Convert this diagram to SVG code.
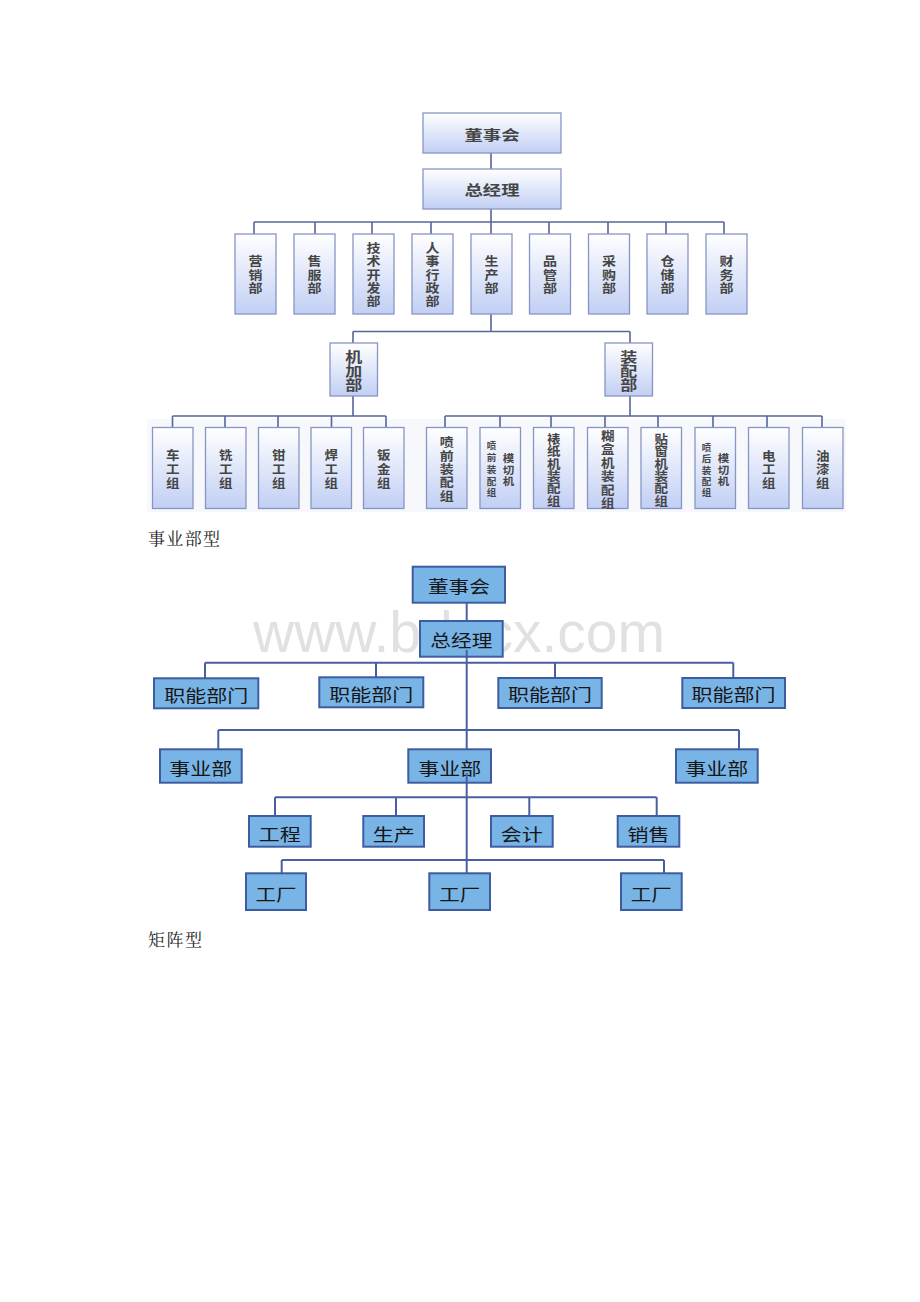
<svg xmlns="http://www.w3.org/2000/svg" width="920" height="1302" viewBox="0 0 920 1302">
<defs>
<linearGradient id="g" x1="0" y1="0" x2="0" y2="1">
<stop offset="0" stop-color="#ffffff"/>
<stop offset="1" stop-color="#c1cff4"/>
</linearGradient>
<style>
.tb{fill:url(#g);stroke:#8795c4;stroke-width:1.3}
.tl{fill:none;stroke:#56679a;stroke-width:1.6}
.tt{font-family:"Noto Sans CJK SC","Noto Sans CJK JP",sans-serif;font-weight:bold;fill:#454545;text-anchor:middle;dominant-baseline:central}
.s12{font-size:12.5px}
.s13{font-size:13.5px}
.s14{font-size:14px}
.s10{font-size:10.5px}
.s9{font-size:9.5px}
.mb{fill:#79b4e7;stroke:#3e5da1;stroke-width:2}
.ml{fill:none;stroke:#4a5fa3;stroke-width:2}
.mt{font-family:"Noto Sans CJK SC","Noto Sans CJK JP",sans-serif;font-size:16.5px;fill:#161616;text-anchor:middle;dominant-baseline:central}
.cap{font-family:"Noto Serif CJK SC","Noto Sans CJK SC",serif;font-size:17px;fill:#222}
.wm{font-family:"Liberation Sans",Arial,sans-serif;font-size:57px;fill:#e1e1e1}
</style>
</defs>
<rect width="920" height="1302" fill="#ffffff"/>

<!-- ===== 事业部型 diagram ===== -->
<rect x="147" y="419" width="699" height="93" fill="#f7f8fb"/>
<g id="connectors-top">
<path class="tl" d="M491 153V169M491 209V222M254 222H724M254 222V234M315 222V234M372 222V234M431 222V234M491 222V234M549 222V234M608 222V234M666 222V234M724 222V234"/>
<path class="tl" d="M491 314V331.5M353 331.5H630M353 331.5V343M630 331.5V343"/>
<path class="tl" d="M353 396V416M172.5 416H386M172.5 416V427.5M225 416V427.5M278 416V427.5M331.5 416V427.5M386 416V427.5"/>
<path class="tl" d="M630 396V416M445 416H822M445 416V427.5M500 416V427.5M551 416V427.5M605 416V427.5M658 416V427.5M713 416V427.5M767 416V427.5M822 416V427.5"/>
</g>

<g id="t-dongshihui"><rect class="tb" x="423" y="113" width="138" height="40"/><text class="tt s14" x="492" y="134" textLength="55" lengthAdjust="spacingAndGlyphs">董事会</text></g>
<g id="t-zongjingli"><rect class="tb" x="423" y="169" width="138" height="40"/><text class="tt s14" x="492" y="189" textLength="55" lengthAdjust="spacingAndGlyphs">总经理</text></g>

<g id="t-yingxiao"><rect class="tb" x="235" y="234" width="41" height="80"/>
<text class="tt s12" x="255.5" y="260.7" textLength="14" lengthAdjust="spacingAndGlyphs">营</text>
<text class="tt s12" x="255.5" y="274" textLength="14" lengthAdjust="spacingAndGlyphs">销</text>
<text class="tt s12" x="255.5" y="287.3" textLength="14" lengthAdjust="spacingAndGlyphs">部</text></g>
<g id="t-shoufu"><rect class="tb" x="294" y="234" width="41" height="80"/>
<text class="tt s12" x="314.5" y="260.7" textLength="14" lengthAdjust="spacingAndGlyphs">售</text>
<text class="tt s12" x="314.5" y="274" textLength="14" lengthAdjust="spacingAndGlyphs">服</text>
<text class="tt s12" x="314.5" y="287.3" textLength="14" lengthAdjust="spacingAndGlyphs">部</text></g>
<g id="t-jishu"><rect class="tb" x="353" y="234" width="41" height="80"/>
<text class="tt s12" x="373.5" y="247.4" textLength="14" lengthAdjust="spacingAndGlyphs">技</text>
<text class="tt s12" x="373.5" y="260.7" textLength="14" lengthAdjust="spacingAndGlyphs">术</text>
<text class="tt s12" x="373.5" y="274" textLength="14" lengthAdjust="spacingAndGlyphs">开</text>
<text class="tt s12" x="373.5" y="287.3" textLength="14" lengthAdjust="spacingAndGlyphs">发</text>
<text class="tt s12" x="373.5" y="300.6" textLength="14" lengthAdjust="spacingAndGlyphs">部</text></g>
<g id="t-renshi"><rect class="tb" x="412" y="234" width="41" height="80"/>
<text class="tt s12" x="432.5" y="247.4" textLength="14" lengthAdjust="spacingAndGlyphs">人</text>
<text class="tt s12" x="432.5" y="260.7" textLength="14" lengthAdjust="spacingAndGlyphs">事</text>
<text class="tt s12" x="432.5" y="274" textLength="14" lengthAdjust="spacingAndGlyphs">行</text>
<text class="tt s12" x="432.5" y="287.3" textLength="14" lengthAdjust="spacingAndGlyphs">政</text>
<text class="tt s12" x="432.5" y="300.6" textLength="14" lengthAdjust="spacingAndGlyphs">部</text></g>
<g id="t-shengchan"><rect class="tb" x="471" y="234" width="41" height="80"/>
<text class="tt s12" x="491.5" y="260.7" textLength="14" lengthAdjust="spacingAndGlyphs">生</text>
<text class="tt s12" x="491.5" y="274" textLength="14" lengthAdjust="spacingAndGlyphs">产</text>
<text class="tt s12" x="491.5" y="287.3" textLength="14" lengthAdjust="spacingAndGlyphs">部</text></g>
<g id="t-pinguan"><rect class="tb" x="529.5" y="234" width="41" height="80"/>
<text class="tt s12" x="550" y="260.7" textLength="14" lengthAdjust="spacingAndGlyphs">品</text>
<text class="tt s12" x="550" y="274" textLength="14" lengthAdjust="spacingAndGlyphs">管</text>
<text class="tt s12" x="550" y="287.3" textLength="14" lengthAdjust="spacingAndGlyphs">部</text></g>
<g id="t-caigou"><rect class="tb" x="588.5" y="234" width="41" height="80"/>
<text class="tt s12" x="609" y="260.7" textLength="14" lengthAdjust="spacingAndGlyphs">采</text>
<text class="tt s12" x="609" y="274" textLength="14" lengthAdjust="spacingAndGlyphs">购</text>
<text class="tt s12" x="609" y="287.3" textLength="14" lengthAdjust="spacingAndGlyphs">部</text></g>
<g id="t-cangchu"><rect class="tb" x="647" y="234" width="41" height="80"/>
<text class="tt s12" x="667.5" y="260.7" textLength="14" lengthAdjust="spacingAndGlyphs">仓</text>
<text class="tt s12" x="667.5" y="274" textLength="14" lengthAdjust="spacingAndGlyphs">储</text>
<text class="tt s12" x="667.5" y="287.3" textLength="14" lengthAdjust="spacingAndGlyphs">部</text></g>
<g id="t-caiwu"><rect class="tb" x="706" y="234" width="41" height="80"/>
<text class="tt s12" x="726.5" y="260.7" textLength="14" lengthAdjust="spacingAndGlyphs">财</text>
<text class="tt s12" x="726.5" y="274" textLength="14" lengthAdjust="spacingAndGlyphs">务</text>
<text class="tt s12" x="726.5" y="287.3" textLength="14" lengthAdjust="spacingAndGlyphs">部</text></g>

<g id="t-jijia"><rect class="tb" x="330" y="343" width="47.5" height="53"/>
<text class="tt s13" x="353.75" y="356" textLength="17" lengthAdjust="spacingAndGlyphs">机</text>
<text class="tt s13" x="353.75" y="370" textLength="17" lengthAdjust="spacingAndGlyphs">加</text>
<text class="tt s13" x="353.75" y="384" textLength="17" lengthAdjust="spacingAndGlyphs">部</text></g>
<g id="t-zhuangpei"><rect class="tb" x="605" y="343" width="47.5" height="53"/>
<text class="tt s13" x="628.75" y="356" textLength="17" lengthAdjust="spacingAndGlyphs">装</text>
<text class="tt s13" x="628.75" y="370" textLength="17" lengthAdjust="spacingAndGlyphs">配</text>
<text class="tt s13" x="628.75" y="384" textLength="17" lengthAdjust="spacingAndGlyphs">部</text></g>

<g id="t-chegong"><rect class="tb" x="152.5" y="427.5" width="40.5" height="81"/>
<text class="tt s12" x="172.75" y="454.5" textLength="13.5" lengthAdjust="spacingAndGlyphs">车</text>
<text class="tt s12" x="172.75" y="468.3" textLength="13.5" lengthAdjust="spacingAndGlyphs">工</text>
<text class="tt s12" x="172.75" y="482" textLength="13.5" lengthAdjust="spacingAndGlyphs">组</text></g>
<g id="t-xigong"><rect class="tb" x="205.5" y="427.5" width="40.5" height="81"/>
<text class="tt s12" x="225.75" y="454.5" textLength="13.5" lengthAdjust="spacingAndGlyphs">铣</text>
<text class="tt s12" x="225.75" y="468.3" textLength="13.5" lengthAdjust="spacingAndGlyphs">工</text>
<text class="tt s12" x="225.75" y="482" textLength="13.5" lengthAdjust="spacingAndGlyphs">组</text></g>
<g id="t-qiangong"><rect class="tb" x="258.5" y="427.5" width="40.5" height="81"/>
<text class="tt s12" x="278.75" y="454.5" textLength="13.5" lengthAdjust="spacingAndGlyphs">钳</text>
<text class="tt s12" x="278.75" y="468.3" textLength="13.5" lengthAdjust="spacingAndGlyphs">工</text>
<text class="tt s12" x="278.75" y="482" textLength="13.5" lengthAdjust="spacingAndGlyphs">组</text></g>
<g id="t-hangong"><rect class="tb" x="311" y="427.5" width="40.5" height="81"/>
<text class="tt s12" x="331.25" y="454.5" textLength="13.5" lengthAdjust="spacingAndGlyphs">焊</text>
<text class="tt s12" x="331.25" y="468.3" textLength="13.5" lengthAdjust="spacingAndGlyphs">工</text>
<text class="tt s12" x="331.25" y="482" textLength="13.5" lengthAdjust="spacingAndGlyphs">组</text></g>
<g id="t-banjin"><rect class="tb" x="363.5" y="427.5" width="40.5" height="81"/>
<text class="tt s12" x="383.75" y="454.5" textLength="13.5" lengthAdjust="spacingAndGlyphs">钣</text>
<text class="tt s12" x="383.75" y="468.3" textLength="13.5" lengthAdjust="spacingAndGlyphs">金</text>
<text class="tt s12" x="383.75" y="482" textLength="13.5" lengthAdjust="spacingAndGlyphs">组</text></g>

<g id="t-penqian"><rect class="tb" x="426.5" y="427.5" width="40.5" height="81"/>
<text class="tt s12" x="446.75" y="441.7" textLength="14" lengthAdjust="spacingAndGlyphs">喷</text>
<text class="tt s12" x="446.75" y="455" textLength="14" lengthAdjust="spacingAndGlyphs">前</text>
<text class="tt s12" x="446.75" y="468.3" textLength="14" lengthAdjust="spacingAndGlyphs">装</text>
<text class="tt s12" x="446.75" y="481.6" textLength="14" lengthAdjust="spacingAndGlyphs">配</text>
<text class="tt s12" x="446.75" y="495" textLength="14" lengthAdjust="spacingAndGlyphs">组</text></g>
<g id="t-penqianmoqie"><rect class="tb" x="480" y="427.5" width="40.5" height="81"/>
<text class="tt s9" x="491.5" y="445">喷</text>
<text class="tt s9" x="491.5" y="457">前</text>
<text class="tt s9" x="491.5" y="469">装</text>
<text class="tt s9" x="491.5" y="480.5">配</text>
<text class="tt s9" x="491.5" y="491.5">组</text>
<text class="tt s10" x="508.5" y="457" textLength="11.5" lengthAdjust="spacingAndGlyphs">模</text>
<text class="tt s10" x="508.5" y="469" textLength="11.5" lengthAdjust="spacingAndGlyphs">切</text>
<text class="tt s10" x="508.5" y="480.5" textLength="11.5" lengthAdjust="spacingAndGlyphs">机</text></g>
<g id="t-biaozhi"><rect class="tb" x="533.5" y="427.5" width="40.5" height="81"/>
<text class="tt s12" x="553.75" y="438.3" textLength="13.5" lengthAdjust="spacingAndGlyphs">裱</text>
<text class="tt s12" x="553.75" y="450.7" textLength="13.5" lengthAdjust="spacingAndGlyphs">纸</text>
<text class="tt s12" x="553.75" y="463.1" textLength="13.5" lengthAdjust="spacingAndGlyphs">机</text>
<text class="tt s12" x="553.75" y="475.5" textLength="13.5" lengthAdjust="spacingAndGlyphs">装</text>
<text class="tt s12" x="553.75" y="487.9" textLength="13.5" lengthAdjust="spacingAndGlyphs">配</text>
<text class="tt s12" x="553.75" y="500.3" textLength="13.5" lengthAdjust="spacingAndGlyphs">组</text></g>
<g id="t-huhe"><rect class="tb" x="587.5" y="427.5" width="40.5" height="81"/>
<text class="tt s12" x="607.75" y="435.3" textLength="13.5" lengthAdjust="spacingAndGlyphs">糊</text>
<text class="tt s12" x="607.75" y="448.8" textLength="13.5" lengthAdjust="spacingAndGlyphs">盒</text>
<text class="tt s12" x="607.75" y="462.3" textLength="13.5" lengthAdjust="spacingAndGlyphs">机</text>
<text class="tt s12" x="607.75" y="475.8" textLength="13.5" lengthAdjust="spacingAndGlyphs">装</text>
<text class="tt s12" x="607.75" y="489.3" textLength="13.5" lengthAdjust="spacingAndGlyphs">配</text>
<text class="tt s12" x="607.75" y="502.8" textLength="13.5" lengthAdjust="spacingAndGlyphs">组</text></g>
<g id="t-tiechuang"><rect class="tb" x="641" y="427.5" width="40.5" height="81"/>
<text class="tt s12" x="661.25" y="438.3" textLength="13.5" lengthAdjust="spacingAndGlyphs">贴</text>
<text class="tt s12" x="661.25" y="450.7" textLength="13.5" lengthAdjust="spacingAndGlyphs">窗</text>
<text class="tt s12" x="661.25" y="463.1" textLength="13.5" lengthAdjust="spacingAndGlyphs">机</text>
<text class="tt s12" x="661.25" y="475.5" textLength="13.5" lengthAdjust="spacingAndGlyphs">装</text>
<text class="tt s12" x="661.25" y="487.9" textLength="13.5" lengthAdjust="spacingAndGlyphs">配</text>
<text class="tt s12" x="661.25" y="500.3" textLength="13.5" lengthAdjust="spacingAndGlyphs">组</text></g>
<g id="t-penhoumoqie"><rect class="tb" x="695" y="427.5" width="40.5" height="81"/>
<text class="tt s9" x="706.5" y="446.5">喷</text>
<text class="tt s9" x="706.5" y="458">后</text>
<text class="tt s9" x="706.5" y="469.5">装</text>
<text class="tt s9" x="706.5" y="481">配</text>
<text class="tt s9" x="706.5" y="492">组</text>
<text class="tt s10" x="723.5" y="457" textLength="11.5" lengthAdjust="spacingAndGlyphs">模</text>
<text class="tt s10" x="723.5" y="469" textLength="11.5" lengthAdjust="spacingAndGlyphs">切</text>
<text class="tt s10" x="723.5" y="480.5" textLength="11.5" lengthAdjust="spacingAndGlyphs">机</text></g>
<g id="t-diangong"><rect class="tb" x="748.5" y="427.5" width="40.5" height="81"/>
<text class="tt s12" x="768.75" y="455" textLength="13.5" lengthAdjust="spacingAndGlyphs">电</text>
<text class="tt s12" x="768.75" y="468.5" textLength="13.5" lengthAdjust="spacingAndGlyphs">工</text>
<text class="tt s12" x="768.75" y="482" textLength="13.5" lengthAdjust="spacingAndGlyphs">组</text></g>
<g id="t-youqi"><rect class="tb" x="802.5" y="427.5" width="40.5" height="81"/>
<text class="tt s12" x="822.75" y="455" textLength="13.5" lengthAdjust="spacingAndGlyphs">油</text>
<text class="tt s12" x="822.75" y="468.5" textLength="13.5" lengthAdjust="spacingAndGlyphs">漆</text>
<text class="tt s12" x="822.75" y="482" textLength="13.5" lengthAdjust="spacingAndGlyphs">组</text></g>

<text id="cap1" class="cap" x="148" y="545" textLength="72">事业部型</text>

<!-- ===== 矩阵型 diagram ===== -->
<text id="watermark" class="wm" x="253" y="652" textLength="412" lengthAdjust="spacingAndGlyphs">www.bdocx.com</text>

<g id="connectors-matrix">
<path class="ml" d="M466.7 602.7V873.3"/>
<path class="ml" d="M205 662.7H733.3M205 662.7V678.3M376 662.7V677.3M555 662.7V678M733.3 662.7V678"/>
<path class="ml" d="M218.3 730H739M218.3 730V749.3M739 730V749.3"/>
<path class="ml" d="M275 797.3H656.7M275 797.3V816M396 797.3V816M529.3 797.3V816M656.7 797.3V816"/>
<path class="ml" d="M281.7 860H664M281.7 860V873.3M664 860V873.3"/>
</g>

<g id="m-dongshihui"><rect class="mb" x="412.7" y="566.7" width="92.3" height="36"/><text class="mt" x="458.9" y="586" textLength="62" lengthAdjust="spacingAndGlyphs">董事会</text></g>
<g id="m-zongjingli"><rect class="mb" x="420" y="621" width="82.7" height="35.7"/><text class="mt" x="461.3" y="640" textLength="62" lengthAdjust="spacingAndGlyphs">总经理</text></g>

<g id="m-zhineng1"><rect class="mb" x="154" y="678.3" width="104.3" height="30"/><text class="mt" x="206.2" y="694.5" textLength="84" lengthAdjust="spacingAndGlyphs">职能部门</text></g>
<g id="m-zhineng2"><rect class="mb" x="319.3" y="677.3" width="104" height="30"/><text class="mt" x="371.3" y="693.5" textLength="84" lengthAdjust="spacingAndGlyphs">职能部门</text></g>
<g id="m-zhineng3"><rect class="mb" x="498.3" y="678" width="103.4" height="30"/><text class="mt" x="550" y="694.2" textLength="84" lengthAdjust="spacingAndGlyphs">职能部门</text></g>
<g id="m-zhineng4"><rect class="mb" x="682.3" y="678" width="102.7" height="30"/><text class="mt" x="733.6" y="694.2" textLength="84" lengthAdjust="spacingAndGlyphs">职能部门</text></g>

<g id="m-shiye1"><rect class="mb" x="160" y="749.3" width="81.7" height="33.4"/><text class="mt" x="200.8" y="767.5" textLength="63" lengthAdjust="spacingAndGlyphs">事业部</text></g>
<g id="m-shiye2"><rect class="mb" x="408.3" y="749.3" width="82.7" height="33.4"/><text class="mt" x="449.7" y="767.5" textLength="63" lengthAdjust="spacingAndGlyphs">事业部</text></g>
<g id="m-shiye3"><rect class="mb" x="676" y="749.3" width="81.7" height="33.4"/><text class="mt" x="716.8" y="767.5" textLength="63" lengthAdjust="spacingAndGlyphs">事业部</text></g>

<g id="m-gongcheng"><rect class="mb" x="249" y="816" width="61.7" height="30.7"/><text class="mt" x="279.8" y="833.5" textLength="42" lengthAdjust="spacingAndGlyphs">工程</text></g>
<g id="m-shengchan"><rect class="mb" x="363.3" y="816" width="60.7" height="30.7"/><text class="mt" x="393.7" y="833.5" textLength="42" lengthAdjust="spacingAndGlyphs">生产</text></g>
<g id="m-kuaiji"><rect class="mb" x="491" y="816" width="61.7" height="30.7"/><text class="mt" x="521.8" y="833.5" textLength="42" lengthAdjust="spacingAndGlyphs">会计</text></g>
<g id="m-xiaoshou"><rect class="mb" x="617.7" y="816" width="61.6" height="30.7"/><text class="mt" x="648.5" y="833.5" textLength="42" lengthAdjust="spacingAndGlyphs">销售</text></g>

<g id="m-gongchang1"><rect class="mb" x="246" y="873.3" width="60" height="36.7"/><text class="mt" x="276" y="894.2" textLength="41" lengthAdjust="spacingAndGlyphs">工厂</text></g>
<g id="m-gongchang2"><rect class="mb" x="429.3" y="873.3" width="60.7" height="36.7"/><text class="mt" x="459.7" y="894.2" textLength="41" lengthAdjust="spacingAndGlyphs">工厂</text></g>
<g id="m-gongchang3"><rect class="mb" x="621" y="873.3" width="60.7" height="36.7"/><text class="mt" x="651.3" y="894.2" textLength="41" lengthAdjust="spacingAndGlyphs">工厂</text></g>

<g id="connectors-matrix-over">
<path class="ml" d="M466.7 650V656.7M466.7 773V782.7"/>
</g>

<text id="cap2" class="cap" x="148" y="946" textLength="54">矩阵型</text>
</svg>
